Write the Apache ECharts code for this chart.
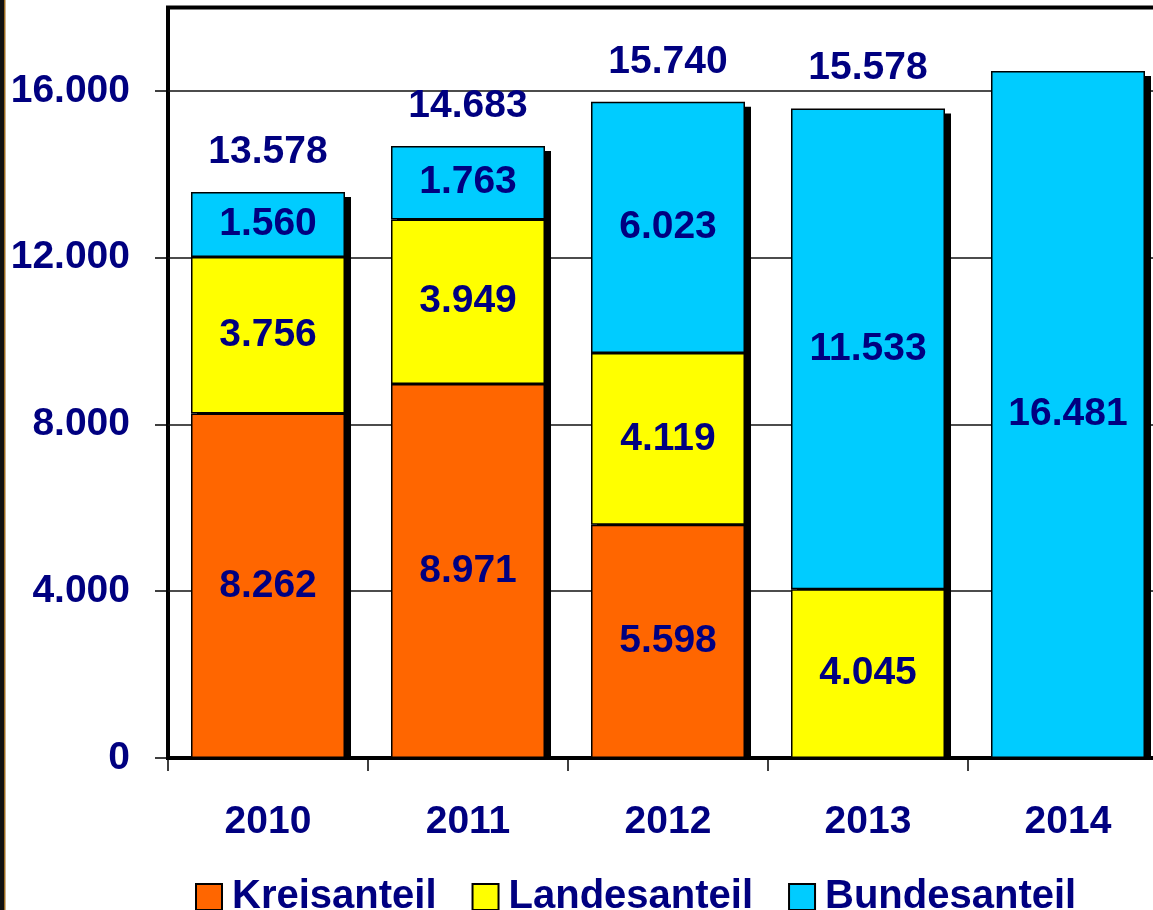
<!DOCTYPE html>
<html>
<head>
<meta charset="utf-8">
<script src="https://cdn.jsdelivr.net/npm/echarts@6/dist/echarts.min.js"></script>
<style>
html,body{margin:0;padding:0;background:#fff;}
#chart{width:1153px;height:910px;}
</style>
</head>
<body>
<div id="chart"></div>
<script>
const categories = ['2010', '2011', '2012', '2013', '2014'];
const kreisanteil = [8262, 8971, 5598, 0, 0];
const landesanteil = [3756, 3949, 4119, 4045, 0];
const bundesanteil = [1560, 1763, 6023, 11533, 16481];
const totals = [13578, 14683, 15740, 15578, 16481];
const showTotal = [true, true, true, true, false];
const yTicks = [0, 4000, 8000, 12000, 16000];

const NAVY = '#000080';
const FONT = '"Liberation Sans", Arial, sans-serif';
const fmt = v => String(v).replace(/\B(?=(\d{3})+(?!\d))/g, '.');

const chart = echarts.init(document.getElementById('chart'), null, {renderer: 'canvas'});

function barSeries(name, values, color) {
  return {
    name: name,
    type: 'bar',
    stack: 'total',
    barWidth: 154,
    z: 3,
    data: values.map(v => (v ? v : null)),
    itemStyle: {color: color, borderColor: '#000', borderWidth: 1.5},
    label: {
      show: true,
      position: 'inside',
      color: NAVY,
      fontFamily: FONT,
      fontWeight: 'bold',
      fontSize: 39,
      padding: [8, 0, 0, 0],
      formatter: p => (p.value ? fmt(p.value) : '')
    }
  };
}

const option = {
  backgroundColor: '#fff',
  animation: false,
  graphic: [
    {type: 'rect', shape: {x: 0, y: 0, width: 4, height: 910}, style: {fill: '#111'}, z: 10},
    {type: 'rect', shape: {x: 4, y: 0, width: 1.5, height: 910}, style: {fill: '#9a6a20'}, z: 10}
  ],
  grid: {
    left: 168, width: 1000, top: 7.6, bottom: 152,
    outerBoundsMode: 'none',
    containLabel: false,
    show: true, borderColor: '#000', borderWidth: 4, backgroundColor: 'transparent'
  },
  legend: {
    left: 190, top: 872,
    itemWidth: 26, itemHeight: 26, itemGap: 35,
    icon: 'rect',
    itemStyle: {borderColor: '#000', borderWidth: 2},
    textStyle: {color: NAVY, fontFamily: FONT, fontWeight: 'bold', fontSize: 40, padding: [0, 0, 0, 5]},
    data: ['Kreisanteil', 'Landesanteil', 'Bundesanteil']
  },
  xAxis: {
    type: 'category',
    data: categories,
    axisLine: {show: true, lineStyle: {color: '#000', width: 4}},
    axisTick: {show: true, length: 13, lineStyle: {color: '#000', width: 1.5}},
    axisLabel: {color: NAVY, fontFamily: FONT, fontWeight: 'bold', fontSize: 39, margin: 45}
  },
  yAxis: {
    type: 'value',
    min: 0, max: 18000,
    axisLine: {show: false},
    axisTick: {show: true, inside: false, length: 13, customValues: yTicks, lineStyle: {color: '#000', width: 1.5}},
    splitLine: {show: true, lineStyle: {color: '#111', width: 1.5}},
    axisLabel: {
      customValues: yTicks,
      color: NAVY, fontFamily: FONT, fontWeight: 'bold', fontSize: 39, margin: 38,
      padding: [9, 0, 0, 0],
      formatter: v => fmt(v)
    }
  },
  series: [
    {
      type: 'custom',
      z: 1,
      silent: true,
      encode: {x: 0, y: 1},
      data: totals.map((t, i) => [i, t, showTotal[i] ? 1 : 0]),
      renderItem: function (params, api) {
        const idx = api.value(0);
        const total = api.value(1);
        const top = api.coord([idx, total]);
        const base = api.coord([idx, 0]);
        const bw = 154;
        const children = [{
          type: 'rect',
          shape: {x: top[0] - bw / 2 + 6, y: top[1] + 5, width: bw, height: base[1] - top[1] - 5},
          style: {fill: '#000'}
        }];
        if (api.value(2)) {
          children.push({
            type: 'text',
            x: top[0],
            y: top[1] - 40,
            style: {
              text: fmt(total), fill: NAVY, fontFamily: FONT, fontWeight: 'bold', fontSize: 39,
              align: 'center', verticalAlign: 'middle'
            }
          });
        }
        return {type: 'group', children: children};
      }
    },
    barSeries('Kreisanteil', kreisanteil, '#FF6600'),
    barSeries('Landesanteil', landesanteil, '#FFFF00'),
    barSeries('Bundesanteil', bundesanteil, '#00CCFF')
  ]
};
chart.setOption(option);
</script>
</body>
</html>
